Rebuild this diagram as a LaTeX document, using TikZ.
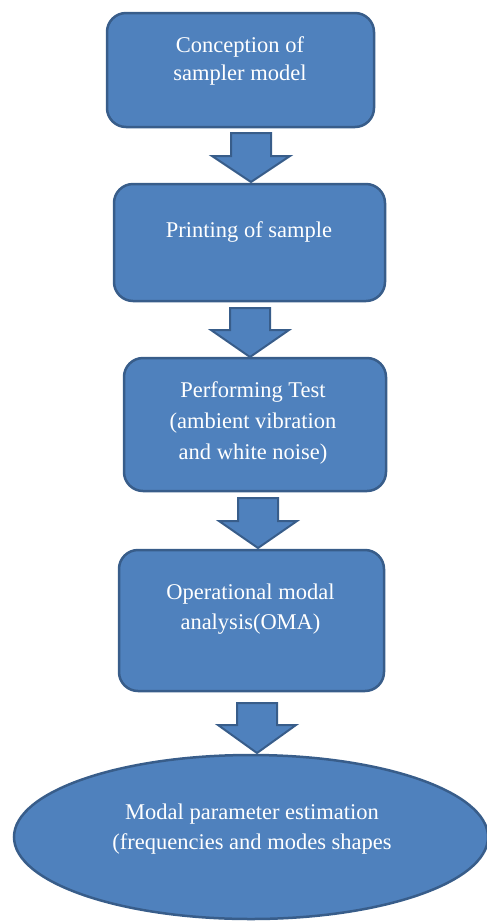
\documentclass[tikz,border=0pt]{standalone}
\usepackage{fontspec}
\setmainfont{Liberation Serif}
\usetikzlibrary{shapes.geometric}
\definecolor{boxfill}{HTML}{4F81BD}
\definecolor{boxedge}{HTML}{385D8A}
\newcommand{\myblockarrow}[4]{%
  \draw[blockarrow] (#1-20,#2) -- (#1+20,#2) -- (#1+20,#3) -- (#1+39,#3) -- (#1,#4)
    -- (#1-39,#3) -- (#1-20,#3) -- cycle;}
\begin{document}
\begin{tikzpicture}[x=1pt,y=-1pt,
  stepbox/.style={draw=boxedge, fill=boxfill, line width=2.5pt, rounded corners=19pt, inner sep=0pt},
  ovalbox/.style={ellipse, draw=boxedge, fill=boxfill, line width=2.5pt, inner sep=0pt},
  boxtext/.style={text=white, font=\fontsize{22.5}{28}\selectfont, inner sep=0pt, anchor=base},
  blockarrow/.style={draw=boxedge, fill=boxfill, line width=2pt, line join=miter}]
\useasboundingbox (0,0) rectangle (487,922);

% boxes
\node[stepbox, minimum width=267pt, minimum height=114pt] (b1) at (240.5,70) {};
\node[stepbox, minimum width=271pt, minimum height=117pt] (b2) at (249.5,242.5) {};
\node[stepbox, minimum width=262pt, minimum height=133pt] (b3) at (255,424.5) {};
\node[stepbox, minimum width=265pt, minimum height=141pt] (b4) at (251.5,620.5) {};
\node[ovalbox, minimum width=474pt, minimum height=164pt] (e5) at (251,837) {};

% texts
\node[boxtext] (t1a) at (240,52) {Conception of};
\node[boxtext] (t1b) at (240,80) {sampler model};
\node[boxtext] (t2a) at (249,237) {Printing of sample};
\node[boxtext] (t3a) at (253,397) {Performing Test};
\node[boxtext] (t3b) at (253,428) {(ambient vibration};
\node[boxtext] (t3c) at (253,459) {and white noise)};
\node[boxtext] (t4a) at (250.5,599) {Operational modal};
\node[boxtext] (t4b) at (250.5,629) {analysis(OMA)};
\node[boxtext] (t5a) at (252,819) {Modal parameter estimation};
\node[boxtext] (t5b) at (252,849) {(frequencies and modes shapes};

% block arrows between the boxes
\myblockarrow{251}{133}{156}{182}
\myblockarrow{250}{308}{330}{357}
\myblockarrow{258}{498}{521}{548}
\myblockarrow{257}{703}{725}{753}
\end{tikzpicture}
\end{document}
